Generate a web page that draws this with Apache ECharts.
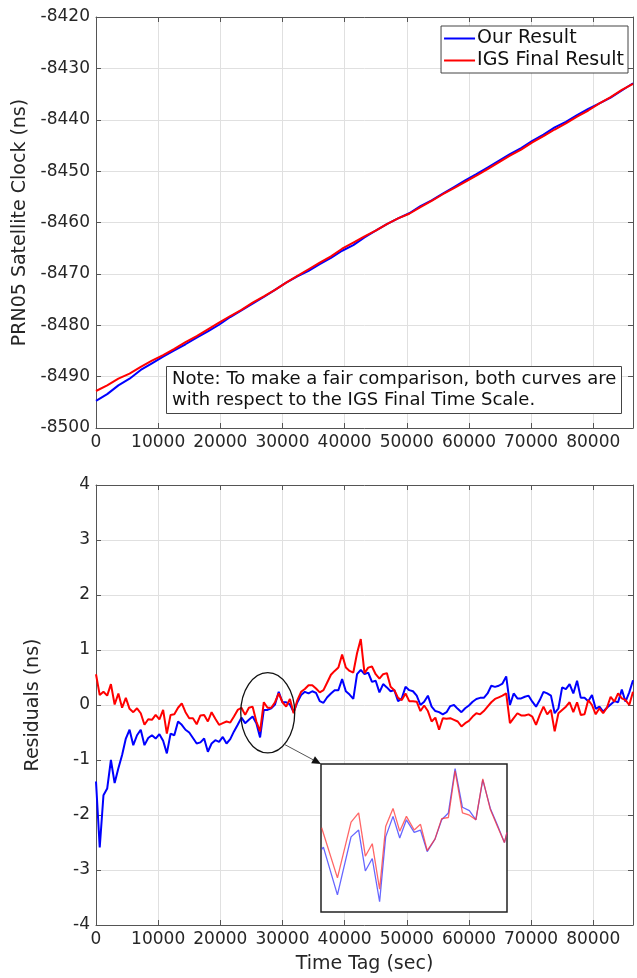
<!DOCTYPE html>
<html>
<head>
<meta charset="utf-8">
<script src="https://cdn.jsdelivr.net/npm/echarts@6/dist/echarts.min.js"></script>
<style>
  body { margin: 0; background: #fff; }
  #main { width: 637px; height: 978px; }
</style>
</head>
<body>
<div id="main"></div>
<script>
// top panel: satellite clock (ns), one value every 1800 s
const ourClock = [-8494.7, -8493.4, -8491.7, -8490.4, -8488.7, -8487.4, -8486.1, -8484.9, -8483.7, -8482.4,
  -8481.2, -8479.9, -8478.4, -8477.1, -8475.8, -8474.5, -8473.1, -8471.7, -8470.5, -8469.4,
  -8468.1, -8466.9, -8465.5, -8464.4, -8462.9, -8461.6, -8460.3, -8459.2, -8458.2, -8456.8,
  -8455.7, -8454.4, -8453.1, -8451.8, -8450.6, -8449.3, -8448.0, -8446.7, -8445.5, -8444.1,
  -8442.9, -8441.5, -8440.4, -8439.1, -8437.9, -8436.8, -8435.7, -8434.3, -8432.9];
const igsClock = [-8492.8, -8491.7, -8490.4, -8489.4, -8488.1, -8486.9, -8485.8, -8484.6, -8483.3, -8482.1,
  -8480.8, -8479.5, -8478.2, -8477.0, -8475.6, -8474.4, -8473.1, -8471.7, -8470.4, -8469.1,
  -8467.8, -8466.6, -8465.1, -8463.9, -8462.7, -8461.6, -8460.3, -8459.2, -8458.3, -8457.0,
  -8455.8, -8454.5, -8453.3, -8452.1, -8450.9, -8449.6, -8448.3, -8447.0, -8445.8, -8444.4,
  -8443.2, -8441.9, -8440.7, -8439.4, -8438.2, -8436.8, -8435.6, -8434.2, -8433.0];
const clockStep = 1800;

// bottom panel: residuals (ns), one value every 600 s
const ourRes = [-1.39, -2.59, -1.64, -1.52, -1.00, -1.42, -1.15, -0.91, -0.61, -0.45,
  -0.73, -0.55, -0.45, -0.73, -0.60, -0.55, -0.61, -0.53, -0.65, -0.88,
  -0.52, -0.55, -0.30, -0.36, -0.45, -0.50, -0.60, -0.70, -0.68, -0.61,
  -0.85, -0.70, -0.64, -0.67, -0.58, -0.70, -0.62, -0.48, -0.36, -0.23,
  -0.33, -0.27, -0.21, -0.33, -0.59, -0.09, -0.09, -0.06, 0.01, 0.24,
  0.05, 0.05, 0.01, -0.13, 0.05, 0.18, 0.24, 0.21, 0.25, 0.22,
  0.07, 0.04, 0.14, 0.21, 0.27, 0.27, 0.47, 0.25, 0.19, 0.11,
  0.56, 0.64, 0.56, 0.59, 0.42, 0.44, 0.23, 0.38, 0.32, 0.25,
  0.27, 0.07, 0.12, 0.33, 0.27, 0.25, 0.17, 0.00, 0.06, 0.17,
  -0.03, -0.11, -0.13, -0.17, -0.13, -0.02, 0.00, -0.07, -0.13, -0.06,
  -0.01, 0.06, 0.11, 0.13, 0.13, 0.21, 0.35, 0.33, 0.35, 0.39,
  0.52, 0.00, 0.21, 0.12, 0.12, 0.15, 0.17, 0.06, -0.03, 0.09,
  0.24, 0.21, 0.17, -0.15, -0.06, 0.32, 0.29, 0.38, 0.21, 0.44,
  0.13, 0.13, 0.07, 0.18, -0.07, -0.03, -0.12, -0.05, 0.01, 0.07,
  0.05, 0.28, 0.06, 0.23, 0.45];
const igsRes = [0.56, 0.18, 0.24, 0.17, 0.38, 0.01, 0.21, -0.05, 0.13, -0.07,
  -0.13, -0.06, -0.15, -0.36, -0.26, -0.27, -0.18, -0.26, -0.09, -0.52,
  -0.18, -0.17, -0.05, 0.03, -0.13, -0.24, -0.24, -0.35, -0.19, -0.18,
  -0.30, -0.13, -0.25, -0.36, -0.33, -0.30, -0.32, -0.21, -0.09, -0.05,
  -0.18, -0.05, -0.03, -0.30, -0.48, 0.05, -0.05, -0.05, 0.05, 0.21,
  0.05, -0.03, 0.11, -0.15, 0.09, 0.24, 0.29, 0.36, 0.36, 0.30,
  0.23, 0.27, 0.41, 0.55, 0.62, 0.68, 0.92, 0.68, 0.62, 0.59,
  0.94, 1.20, 0.58, 0.68, 0.70, 0.56, 0.48, 0.56, 0.58, 0.33,
  0.27, 0.13, 0.09, 0.21, 0.07, 0.07, 0.06, -0.11, -0.01, -0.11,
  -0.30, -0.23, -0.45, -0.24, -0.25, -0.24, -0.27, -0.30, -0.39, -0.33,
  -0.29, -0.21, -0.15, -0.17, -0.11, -0.03, 0.05, 0.11, 0.14, 0.17,
  0.21, -0.33, -0.24, -0.15, -0.19, -0.19, -0.17, -0.21, -0.36, -0.18,
  -0.03, -0.17, -0.09, -0.48, -0.15, -0.09, -0.03, 0.05, -0.13, 0.05,
  -0.18, -0.17, 0.09, 0.00, -0.17, -0.06, -0.15, -0.05, 0.15, 0.06,
  0.21, 0.12, 0.09, 0.00, 0.24];
const resStep = 600;

// zoomed inset (circled part of the residuals)
const insetTime = [23530, 23610, 24260, 24890, 25240, 25550, 25870, 26210, 26490, 26830,
  27140, 27450, 27810, 28100, 28410, 28770, 29080, 29390, 29700, 30040,
  30360, 30660, 30980, 31330, 31640, 31980, 32100];
const insetOur = [-0.25, -0.23, -0.65, -0.14, -0.08, -0.44, -0.33, -0.71, -0.14, 0.04,
  -0.15, 0.01, -0.10, -0.08, -0.27, -0.16, 0.01, 0.07, 0.46, 0.12,
  0.09, 0.01, 0.36, 0.11, -0.03, -0.19, -0.10];
const insetIgs = [-0.06, -0.05, -0.50, -0.01, 0.07, -0.31, -0.20, -0.60, -0.05, 0.11,
  -0.09, 0.04, -0.08, -0.03, -0.26, -0.16, 0.02, 0.03, 0.44, 0.07,
  0.05, 0.01, 0.37, 0.10, -0.04, -0.19, -0.10];

const seriesNames = ['Our Result', 'IGS Final Result'];
const font = 'DejaVu Sans';
const textColor = '#262626';

function pairs(vals, step) {
  return vals.map((v, i) => [i * step, v]);
}

function xAxisFor(grid, showLabels, pos) {
  return {
    type: 'value', gridIndex: grid, position: pos, min: 0, max: 86400, interval: 10000,
    axisLine: { show: true, onZero: false, lineStyle: { color: '#555', width: 1 } },
    axisTick: { show: true, inside: true, length: 5, lineStyle: { color: '#555' } },
    axisLabel: { show: showLabels, showMaxLabel: false, color: textColor, fontSize: 17, fontFamily: font, margin: 6,
      formatter: v => String(v) },
    splitLine: { show: showLabels, lineStyle: { color: '#e0e0e0' } }
  };
}

function yAxisFor(grid, showLabels, pos, min, max, interval) {
  return {
    type: 'value', gridIndex: grid, position: pos, min: min, max: max, interval: interval,
    axisLine: { show: true, onZero: false, lineStyle: { color: '#555', width: 1 } },
    axisTick: { show: true, inside: true, length: 5, lineStyle: { color: '#555' } },
    axisLabel: { show: showLabels, color: textColor, fontSize: 17, fontFamily: font, margin: 6,
      formatter: v => String(v) },
    splitLine: { show: showLabels, lineStyle: { color: '#e0e0e0' } }
  };
}

const xTop = xAxisFor(0, true, 'bottom');
const xBottom = xAxisFor(1, true, 'bottom');
xBottom.name = 'Time Tag (sec)';
xBottom.nameLocation = 'middle';
xBottom.nameGap = 30;
xBottom.nameTextStyle = { color: textColor, fontSize: 19, fontFamily: font };

const yTop = yAxisFor(0, true, 'left', -8500, -8420, 10);
yTop.name = 'PRN05 Satellite Clock (ns)';
yTop.nameLocation = 'middle';
yTop.nameGap = 61;
yTop.nameTextStyle = { color: textColor, fontSize: 19, fontFamily: font };

const yBottom = yAxisFor(1, true, 'left', -4, 4, 1);
yBottom.name = 'Residuals (ns)';
yBottom.nameLocation = 'middle';
yBottom.nameGap = 53;
yBottom.nameTextStyle = { color: textColor, fontSize: 19, fontFamily: font };

const option = {
  animation: false,
  backgroundColor: '#fff',
  grid: [
    { left: 96, top: 17, width: 537, height: 411 },
    { left: 96, top: 485, width: 537, height: 440 },
    { left: 321, top: 764, width: 186, height: 148, show: true, z: 10,
      backgroundColor: '#fff', borderColor: '#222', borderWidth: 1.5 }
  ],
  xAxis: [
    xTop, xAxisFor(0, false, 'top'),
    xBottom, xAxisFor(1, false, 'top'),
    { type: 'value', gridIndex: 2, min: 23500, max: 32100, show: false }
  ],
  yAxis: [
    yTop, yAxisFor(0, false, 'right', -8500, -8420, 10),
    yBottom, yAxisFor(1, false, 'right', -4, 4, 1),
    { type: 'value', gridIndex: 2, min: -0.8, max: 0.5, show: false }
  ],
  legend: {
    data: seriesNames,
    orient: 'vertical',
    right: 9,
    top: 26,
    icon: 'rect',
    itemWidth: 31,
    itemHeight: 2,
    itemGap: 3,
    padding: [3, 4, 3, 3],
    borderColor: '#444',
    borderWidth: 1,
    backgroundColor: '#fff',
    textStyle: { color: '#111', fontSize: 19, fontFamily: font, padding: [0, 0, 0, -3] }
  },
  title: {
    text: 'Note: To make a fair comparison, both curves are\nwith respect to the IGS Final Time Scale.',
    left: 166,
    top: 366,
    padding: [3, 5, 3, 6],
    borderColor: '#444',
    borderWidth: 1,
    backgroundColor: '#fff',
    textStyle: { color: '#111', fontSize: 18, fontWeight: 'normal', fontFamily: font, lineHeight: 21 }
  },
  series: [
    { name: seriesNames[0], type: 'line', xAxisIndex: 0, yAxisIndex: 0, showSymbol: false,
      data: pairs(ourClock, clockStep), lineStyle: { color: '#0000ff', width: 2 }, itemStyle: { color: '#0000ff' } },
    { name: seriesNames[1], type: 'line', xAxisIndex: 0, yAxisIndex: 0, showSymbol: false,
      data: pairs(igsClock, clockStep), lineStyle: { color: '#ff0000', width: 2 }, itemStyle: { color: '#ff0000' } },
    { name: seriesNames[0], type: 'line', xAxisIndex: 2, yAxisIndex: 2, showSymbol: false,
      data: pairs(ourRes, resStep), lineStyle: { color: '#0000ff', width: 2 }, itemStyle: { color: '#0000ff' } },
    { name: seriesNames[1], type: 'line', xAxisIndex: 2, yAxisIndex: 2, showSymbol: false,
      data: pairs(igsRes, resStep), lineStyle: { color: '#ff0000', width: 2 }, itemStyle: { color: '#ff0000' } },
    { name: seriesNames[0], type: 'line', xAxisIndex: 4, yAxisIndex: 4, showSymbol: false, z: 12,
      data: insetTime.map((t, i) => [t, insetOur[i]]),
      lineStyle: { color: '#3333ff', width: 1.3, opacity: 0.75 }, itemStyle: { color: '#0000ff' } },
    { name: seriesNames[1], type: 'line', xAxisIndex: 4, yAxisIndex: 4, showSymbol: false, z: 12,
      data: insetTime.map((t, i) => [t, insetIgs[i]]),
      lineStyle: { color: '#ff3333', width: 1.3, opacity: 0.75 }, itemStyle: { color: '#ff0000' } }
  ]
};

const chart = echarts.init(document.getElementById('main'));
chart.setOption(option);

// ellipse round the zoomed part and the arrow to the inset
const c = chart.convertToPixel({ gridIndex: 1 }, [27630, -0.14]);
const edge = chart.convertToPixel({ gridIndex: 1 }, [27630 + 4340, -0.14 - 0.73]);
const rx = edge[0] - c[0];
const ry = edge[1] - c[1];
const corner = chart.convertToPixel({ gridIndex: 2 }, [23500, 0.5]);
const ang = 52 * Math.PI / 180;
const sx = c[0] + rx * Math.cos(ang);
const sy = c[1] + ry * Math.sin(ang);
const len = Math.hypot(corner[0] - sx, corner[1] - sy);
const dx = (corner[0] - sx) / len;
const dy = (corner[1] - sy) / len;
const bx = corner[0] - dx * 9;
const by = corner[1] - dy * 9;

chart.setOption({
  graphic: [
    { type: 'ellipse', z: 20, shape: { cx: c[0], cy: c[1], rx: rx, ry: ry },
      style: { fill: 'none', stroke: '#111', lineWidth: 1.3 } },
    { type: 'line', z: 20, shape: { x1: sx, y1: sy, x2: bx, y2: by },
      style: { stroke: '#555', lineWidth: 1 } },
    { type: 'polygon', z: 20,
      shape: { points: [[corner[0], corner[1]], [bx - dy * 4, by + dx * 4], [bx + dy * 4, by - dx * 4]] },
      style: { fill: '#111' } }
  ]
});
</script>
</body>
</html>
